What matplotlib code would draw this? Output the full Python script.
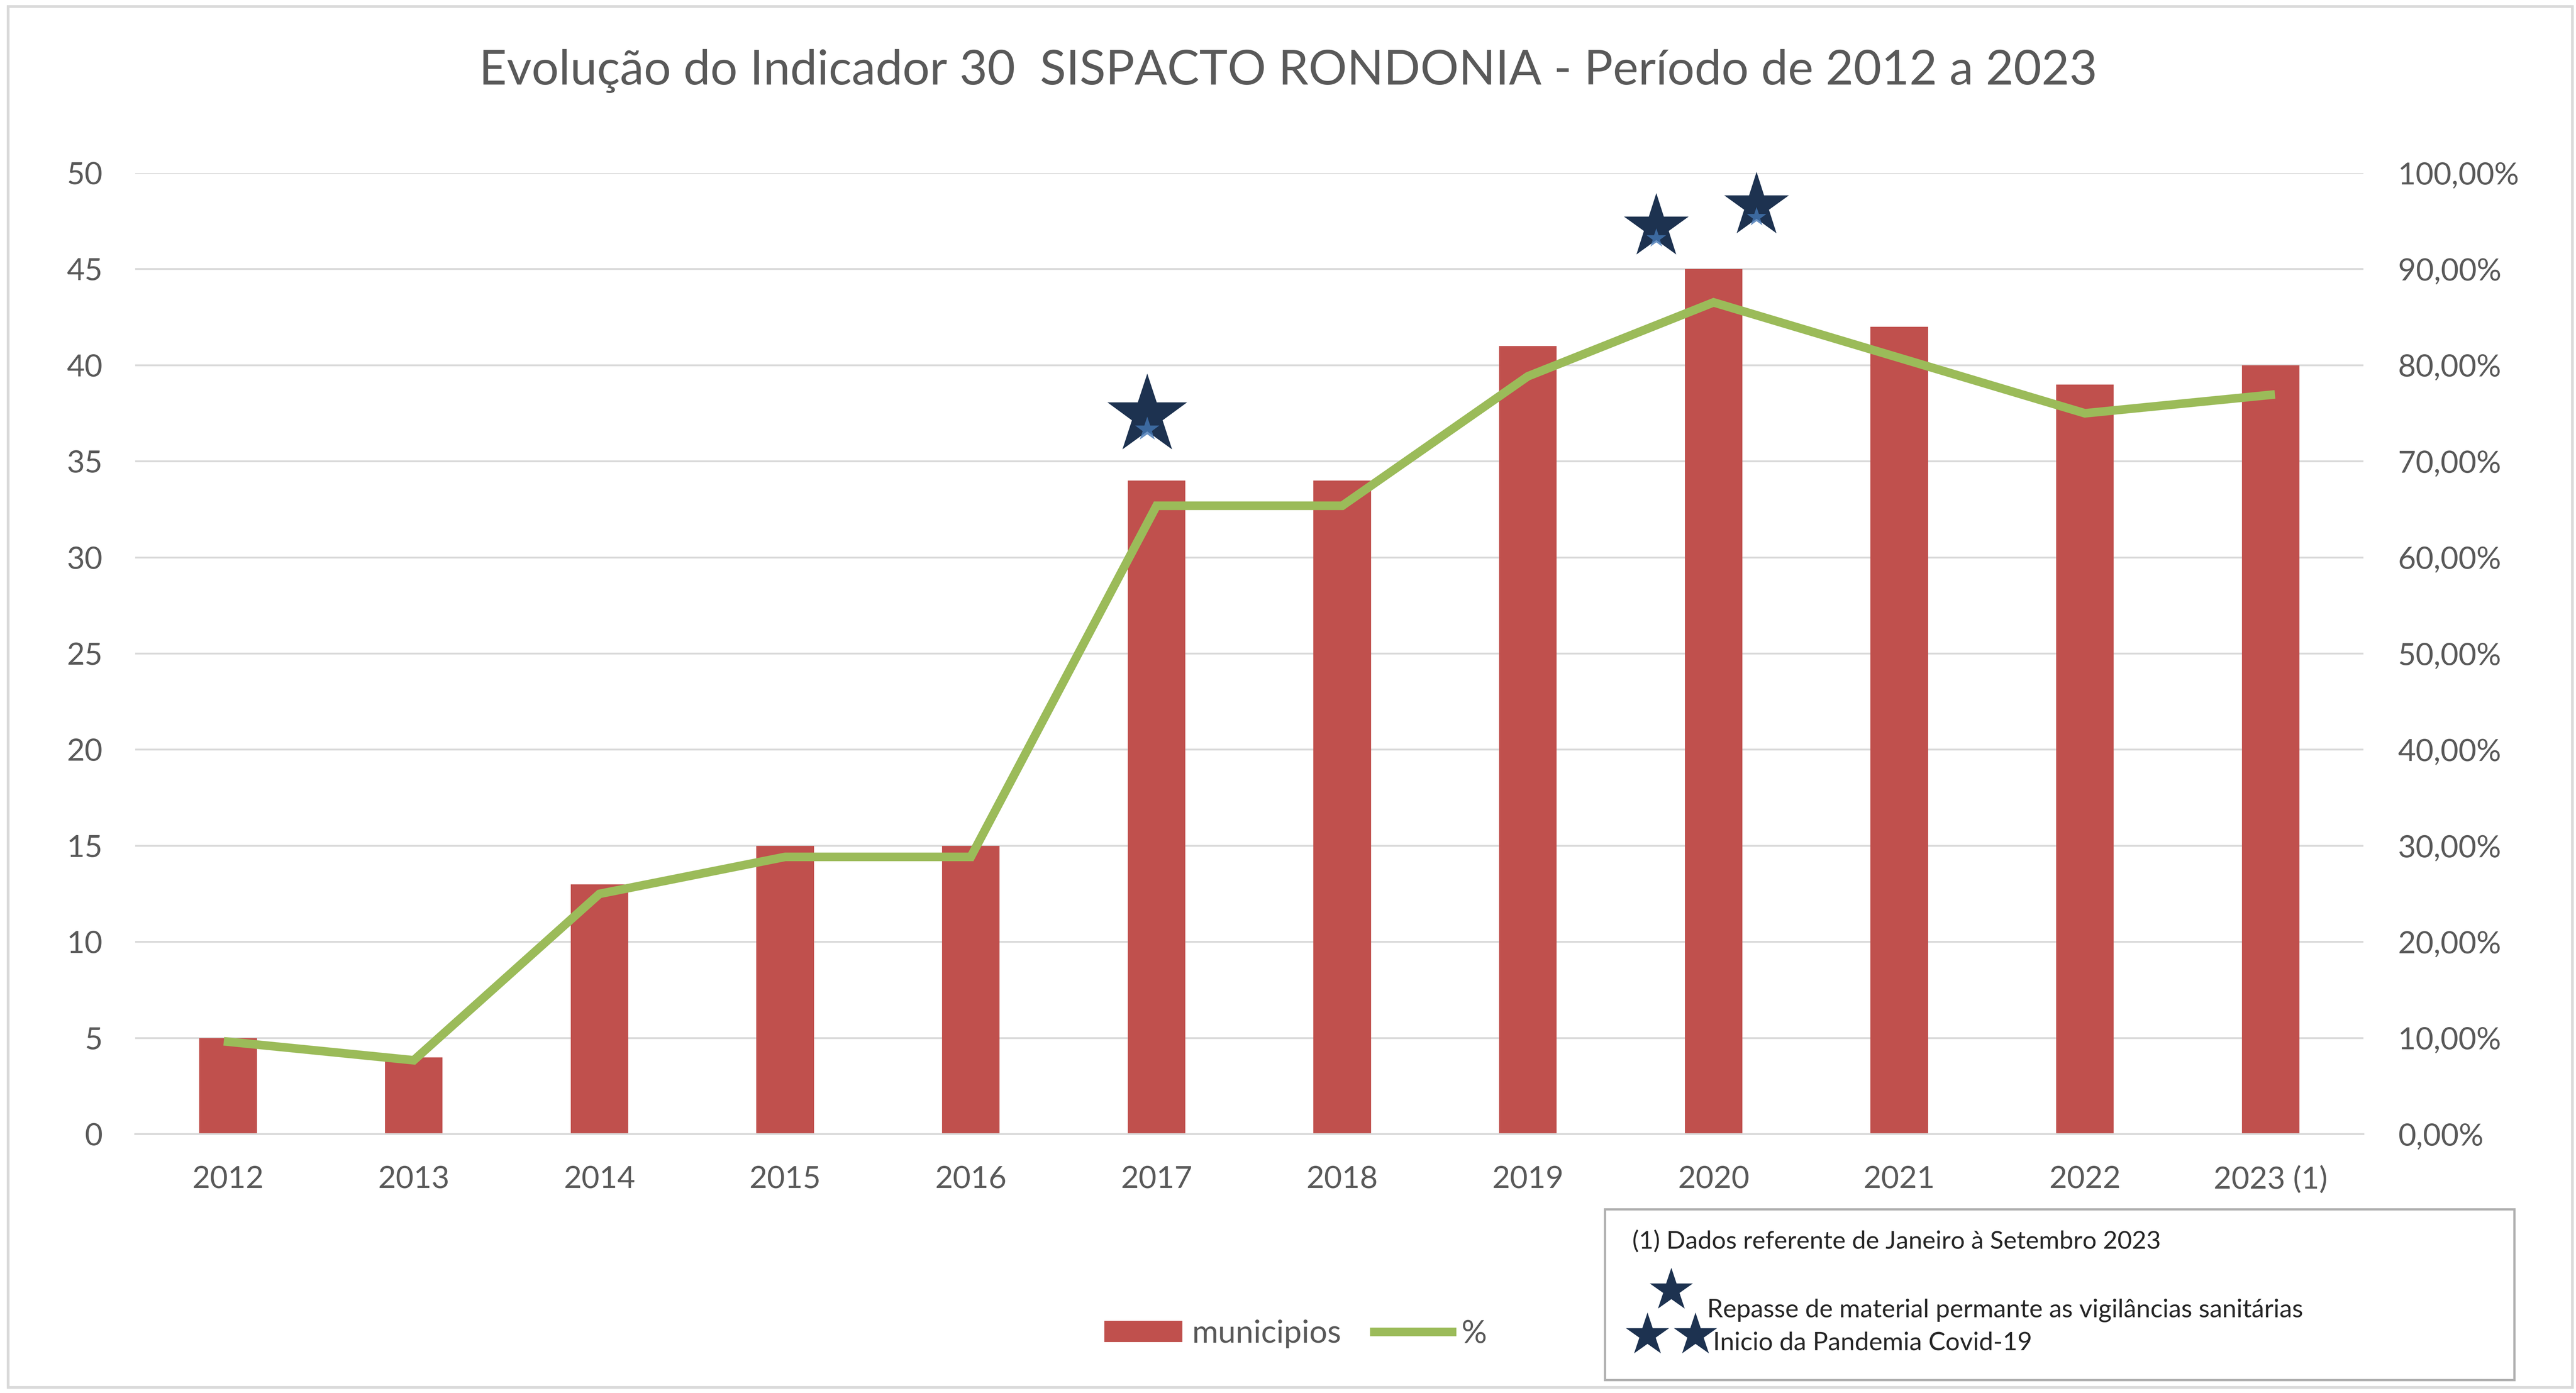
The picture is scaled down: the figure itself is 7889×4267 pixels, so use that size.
import matplotlib.pyplot as plt
from matplotlib.patches import Rectangle

# values
years = ['2012', '2013', '2014', '2015', '2016', '2017', '2018', '2019', '2020', '2021', '2022', '2023 (1)']
municipios = [5, 4, 13, 15, 15, 34, 34, 41, 45, 42, 39, 40]
percent = [9.62, 7.69, 25.0, 28.85, 28.85, 65.38, 65.38, 78.85, 86.54, 80.77, 75.0, 76.92]
left_ticks = [0, 5, 10, 15, 20, 25, 30, 35, 40, 45, 50]
right_ticks = [0, 10, 20, 30, 40, 50, 60, 70, 80, 90, 100]

title = "Evolução do Indicador 30  SISPACTO RONDONIA - Período de 2012 a 2023"
note = "(1) Dados referente de Janeiro à Setembro 2023"
note_one_star = "Repasse de material permante as vigilâncias sanitárias"
note_two_stars = "Inicio da Pandemia Covid-19"

BAR = '#c0504d'
LINE = '#9bbb59'
GRID = '#d9d9d9'
TXT = '#595959'
STAR = '#1d3250'
STAR_GLINT = '#4577b4'

plt.rcParams['font.family'] = ['Lato', 'DejaVu Sans']

fig = plt.figure(figsize=(78.89, 42.67), dpi=100)
ax = fig.add_axes([0.0525, 0.1858, 0.9175 - 0.0525, 0.8758 - 0.1858])
ax2 = ax.twinx()

x = list(range(len(years)))
bars = ax.bar(x, municipios, width=0.31, color=BAR, label='municipios', zorder=2)
line, = ax2.plot(x, percent, color=LINE, linewidth=19, label='%',
                 solid_joinstyle='miter', zorder=3)

ax.set_xlim(-0.5, len(years) - 0.5)
ax.set_ylim(0, 50)
ax2.set_ylim(0, 100)
ax.set_yticks(left_ticks)
ax.set_yticklabels([str(v) for v in left_ticks])
ax2.set_yticks(right_ticks)
ax2.set_yticklabels([f"{v:.2f}".replace('.', ',') + '%' for v in right_ticks])
ax.set_xticks(x)
ax.set_xticklabels(years)

ax.set_axisbelow(True)
ax.yaxis.grid(True, color=GRID, linewidth=4)
for a in (ax, ax2):
    for s in a.spines.values():
        s.set_visible(False)
    a.tick_params(length=0, labelsize=68, labelcolor=TXT)
ax.spines['bottom'].set_visible(True)
ax.spines['bottom'].set_color(GRID)
ax.spines['bottom'].set_linewidth(4)
ax.tick_params(axis='x', pad=70)
ax.tick_params(axis='y', pad=72)
ax2.tick_params(axis='y', pad=76)

# stars above 2017 and 2020
star_marks = [(5 - 0.05, 37.4, 185), (8 - 0.31, 47.2, 150), (8 + 0.23, 48.3, 150)]
for sx, sy, ms in star_marks:
    ax.plot([sx], [sy], marker='*', ms=ms, color=STAR, mec='none', clip_on=False, zorder=5)
    ax.plot([sx], [sy - ms * 0.004], marker='*', ms=ms * 0.3, color=STAR_GLINT, mec='none',
            alpha=0.8, clip_on=False, zorder=6)

fig.text(0.5, 0.949, title, ha='center', va='center', fontsize=106, color=TXT)

fig.legend(handles=[bars, line], loc='center', bbox_to_anchor=(0.503, 0.0424), ncol=2,
           frameon=False, fontsize=70, labelcolor=TXT, handlelength=2.45,
           handleheight=0.65, handletextpad=0.3, columnspacing=1.05)

# note box
fig.patches.append(Rectangle((0.623, 0.0094), 0.976 - 0.623, 0.132 - 0.0094,
                             transform=fig.transFigure, facecolor='white',
                             edgecolor='#b0b0b0', linewidth=5, zorder=1))
fig.text(0.6337, 0.1036, note, ha='left', va='baseline', fontsize=55, color='#262626', zorder=3)
fig.text(0.6627, 0.0544, note_one_star, ha='left', va='baseline', fontsize=56, color='#262626', zorder=3)
fig.text(0.665, 0.0309, note_two_stars, ha='left', va='baseline', fontsize=56, color='#262626', zorder=3)
for sx, sy in [(0.6488, 0.0738), (0.6395, 0.0417), (0.6581, 0.0417)]:
    fig.lines.append(plt.Line2D([sx], [sy], transform=fig.transFigure, marker='*', ms=100,
                                color=STAR, mec='none', zorder=4))

# chart area border
fig.patches.append(Rectangle((0.0032, 0.004), 0.9986 - 0.0032, 0.9953 - 0.004,
                             transform=fig.transFigure, facecolor='none',
                             edgecolor=GRID, linewidth=6, zorder=0))

fig.savefig('out.png', dpi=100, facecolor='white')
